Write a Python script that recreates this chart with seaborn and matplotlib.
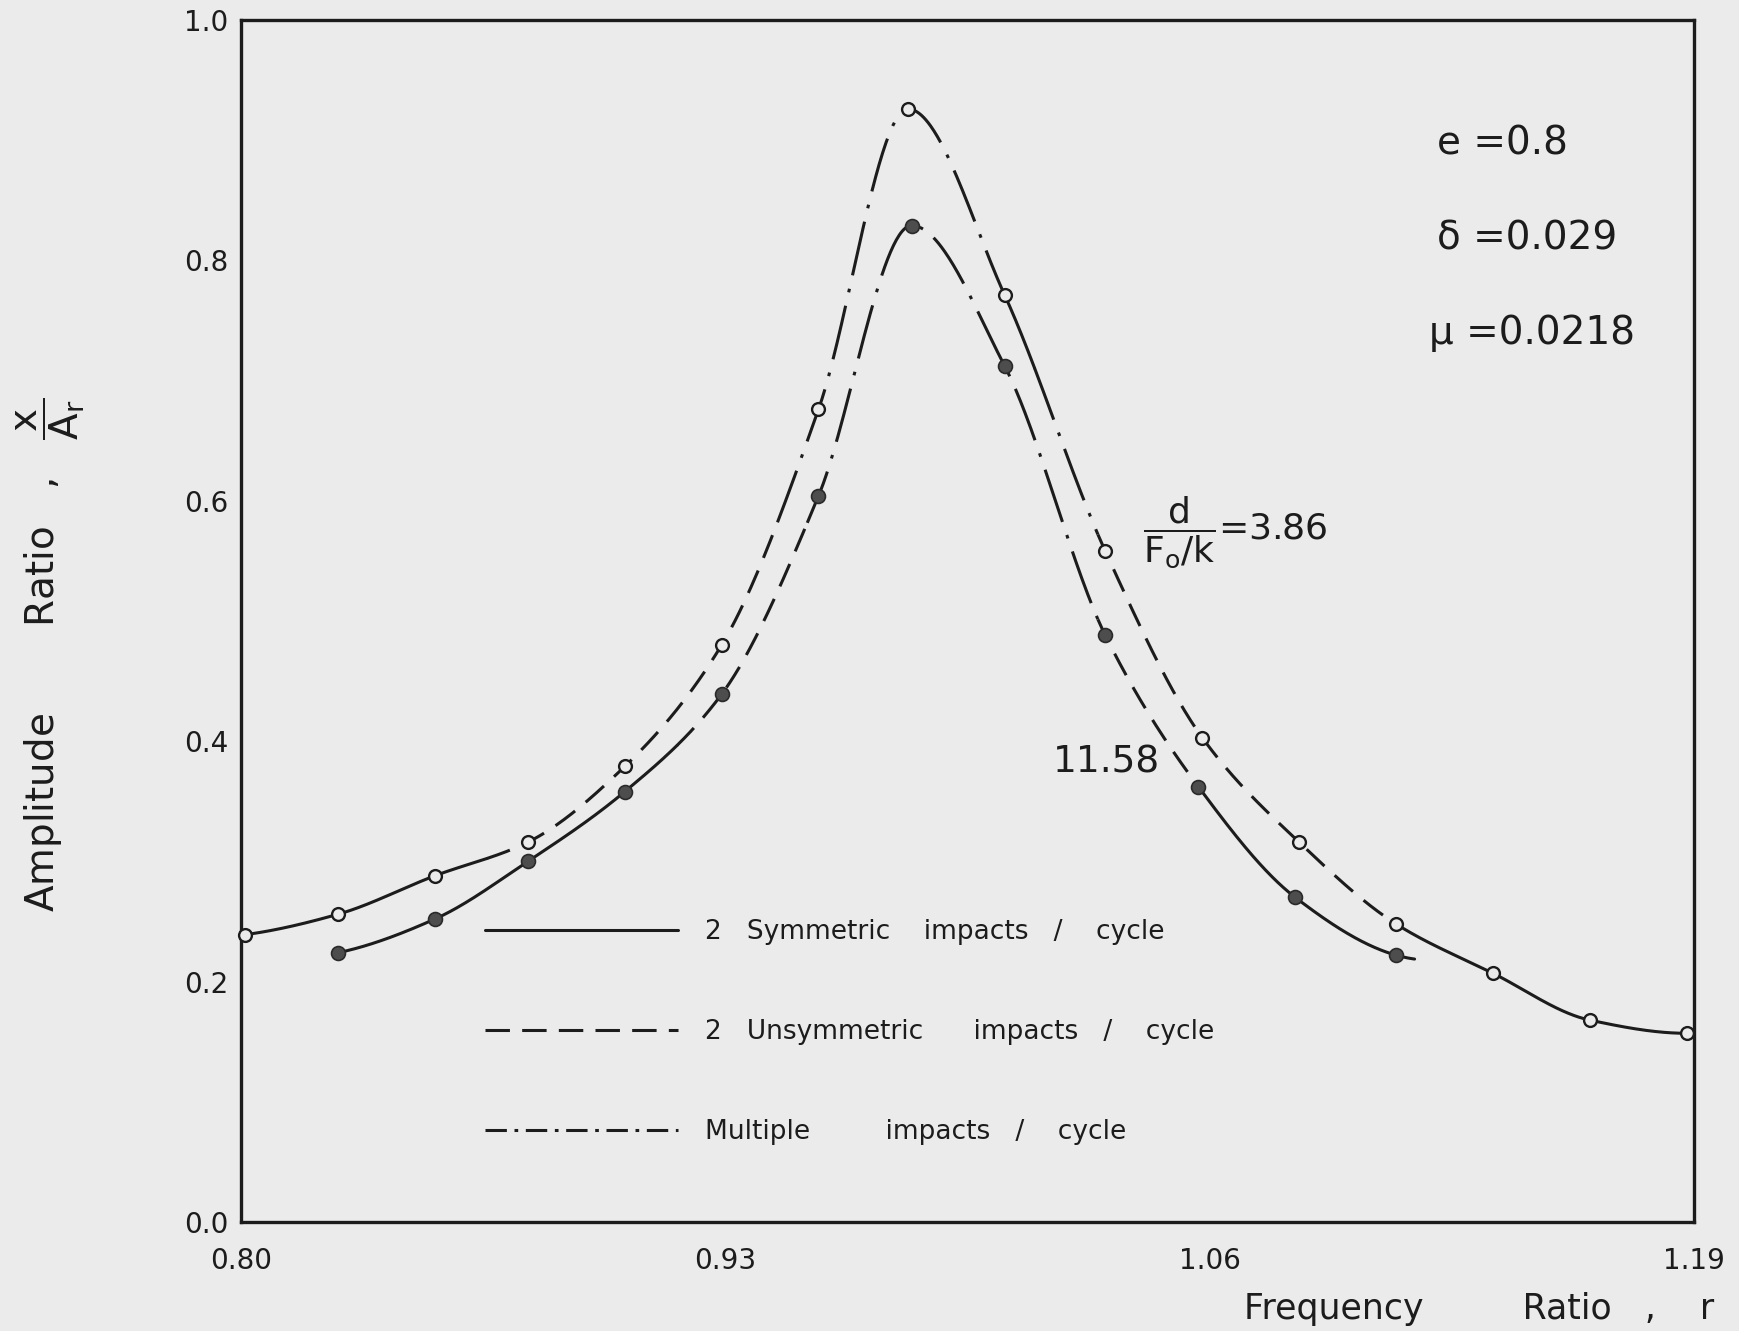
import numpy as np
import pandas as pd
import matplotlib
matplotlib.use("Agg")
import matplotlib.pyplot as plt
from matplotlib.lines import Line2D
import seaborn as sns

# ---------------- data ----------------
open_r = [0.801, 0.826, 0.852, 0.877, 0.903, 0.929, 0.955, 0.979,
          1.005, 1.032, 1.058, 1.084, 1.110, 1.136, 1.162, 1.188]
open_amp = [0.239, 0.256, 0.288, 0.316, 0.379, 0.480, 0.676, 0.926,
            0.771, 0.558, 0.403, 0.316, 0.248, 0.207, 0.168, 0.157]

filled_r = [0.826, 0.852, 0.877, 0.903, 0.929, 0.955, 0.980, 1.005,
            1.032, 1.057, 1.083, 1.110]
filled_amp = [0.224, 0.252, 0.300, 0.358, 0.439, 0.604, 0.829, 0.712,
              0.488, 0.362, 0.270, 0.222]

x_ticks = [0.80, 0.93, 1.06, 1.19]
x_ticklabels = ["0.80", "0.93", "1.06", "1.19"]
y_ticks = [0.0, 0.2, 0.4, 0.6, 0.8, 1.0]
y_ticklabels = ["0.0", "0.2", "0.4", "0.6", "0.8", "1.0"]

legend_labels = ["2   Symmetric    impacts   /    cycle",
                 "2   Unsymmetric      impacts   /    cycle",
                 "Multiple         impacts   /    cycle"]

# ---------------- style ----------------
BG = "#ebebeb"
INK = "#1c1c1c"
LW = 2.2
SOLID = "-"
DASH = (0, (8, 4.5))
DASHDOT = (0, (18, 4.5, 1.2, 4.5))
LEG_DASHDOT = (0, (7, 2.5, 1.2, 2.5))

# line-style segments along r for each curve (start, end, style)
open_segments = [(0.800, 0.866, SOLID), (0.866, 0.944, DASH),
                 (0.944, 1.005, DASHDOT), (1.005, 1.013, SOLID),
                 (1.013, 1.030, DASHDOT), (1.030, 1.110, DASH),
                 (1.110, 1.190, SOLID)]
filled_segments = [(0.826, 0.917, SOLID), (0.917, 0.952, DASH),
                   (0.952, 1.030, DASHDOT), (1.030, 1.057, DASH),
                   (1.057, 1.115, SOLID)]

sns.set_theme(style="white", rc={"axes.facecolor": BG, "figure.facecolor": BG})
plt.rcParams["font.family"] = ["DejaVu Sans"]
plt.rcParams["mathtext.fontset"] = "dejavusans"
plt.rcParams["text.color"] = INK


def pchip(x, y, xs):
    """Monotone cubic Hermite curve through the measured points."""
    x = np.asarray(x, float)
    y = np.asarray(y, float)
    n = len(x)
    h = np.diff(x)
    delta = np.diff(y) / h
    d = np.zeros(n)
    for k in range(1, n - 1):
        if delta[k - 1] * delta[k] <= 0:
            d[k] = 0.0
        else:
            w1 = 2 * h[k] + h[k - 1]
            w2 = h[k] + 2 * h[k - 1]
            d[k] = (w1 + w2) / (w1 / delta[k - 1] + w2 / delta[k])

    def end(h0, h1, d0, d1):
        v = ((2 * h0 + h1) * d0 - h0 * d1) / (h0 + h1)
        if np.sign(v) != np.sign(d0):
            v = 0.0
        elif np.sign(d0) != np.sign(d1) and abs(v) > abs(3 * d0):
            v = 3 * d0
        return v

    d[0] = end(h[0], h[1], delta[0], delta[1])
    d[-1] = end(h[-1], h[-2], delta[-1], delta[-2])
    idx = np.clip(np.searchsorted(x, xs) - 1, 0, n - 2)
    t = (xs - x[idx]) / h[idx]
    h00 = 2 * t ** 3 - 3 * t ** 2 + 1
    h10 = t ** 3 - 2 * t ** 2 + t
    h01 = -2 * t ** 3 + 3 * t ** 2
    h11 = t ** 3 - t ** 2
    return (h00 * y[idx] + h10 * h[idx] * d[idx] + h01 * y[idx + 1]
            + h11 * h[idx] * d[idx + 1])


fig = plt.figure(figsize=(17.4, 13.31), dpi=100)
ax = fig.add_axes([241 / 1740, 109 / 1331, 1453 / 1740, 1202 / 1331])

for rr, aa, segs in [(open_r, open_amp, open_segments),
                     (filled_r, filled_amp, filled_segments)]:
    for a, b, ls in segs:
        xs = np.linspace(a, b, 200)
        ys = pchip(rr, aa, xs)
        ax.plot(xs, ys, color=INK, lw=LW, linestyle=ls,
                dash_capstyle="butt", solid_capstyle="round", zorder=3)

df_open = pd.DataFrame({"r": open_r, "amp": open_amp})
df_filled = pd.DataFrame({"r": filled_r, "amp": filled_amp})
sns.scatterplot(data=df_open, x="r", y="amp", ax=ax, s=85, color=BG,
                edgecolor=INK, linewidth=1.7, zorder=5, clip_on=False,
                legend=False)
sns.scatterplot(data=df_filled, x="r", y="amp", ax=ax, s=100, color="#4d4d4d",
                edgecolor="#2a2a2a", linewidth=1.2, zorder=5, clip_on=False,
                legend=False)

ax.set_xlim(0.80, 1.19)
ax.set_ylim(0.0, 1.0)
ax.set_xticks(x_ticks)
ax.set_xticklabels(x_ticklabels)
ax.set_yticks(y_ticks)
ax.set_yticklabels(y_ticklabels)
ax.tick_params(axis="x", direction="in", length=14, width=2, pad=18,
               labelsize=20, colors=INK)
ax.tick_params(axis="y", direction="in", length=13, width=2, pad=9,
               labelsize=20, colors=INK)
for sp in ax.spines.values():
    sp.set_visible(True)
    sp.set_linewidth(2.4)
    sp.set_color(INK)
ax.set_xlabel("")
ax.set_ylabel("")

# parameter annotations
ax.text(1.121, 0.897, "e =0.8", fontsize=28, ha="left", va="center")
ax.text(1.121, 0.818, "δ =0.029", fontsize=28, ha="left", va="center")
ax.text(1.119, 0.740, "μ =0.0218", fontsize=28, ha="left", va="center")
ax.text(1.042, 0.574, r"$\dfrac{\mathrm{d}}{\mathrm{F_o/k}}$=3.86", fontsize=26,
        ha="left", va="center")
ax.text(1.018, 0.382, "11.58", fontsize=27, ha="left", va="center")

handles = [Line2D([], [], color=INK, lw=LW, linestyle=SOLID),
           Line2D([], [], color=INK, lw=LW, linestyle=(0, (8, 4))),
           Line2D([], [], color=INK, lw=LW, linestyle=LEG_DASHDOT)]
ax.legend(handles, legend_labels, loc="upper left",
          bbox_to_anchor=(0.168, 0.252), frameon=False, fontsize=19,
          handlelength=7.3, handletextpad=1.05, labelspacing=2.8,
          borderpad=0, borderaxespad=0)

fig.text(0.029, 0.508,
         r"Amplitude       Ratio   ,   $\dfrac{\mathrm{x}}{\mathrm{A_r}}$",
         rotation=90, fontsize=28, ha="center", va="center")
fig.text(0.985, 0.0165, "Frequency         Ratio   ,    r", fontsize=25,
         ha="right", va="center")

fig.savefig("out.png", dpi=100, facecolor=BG)
